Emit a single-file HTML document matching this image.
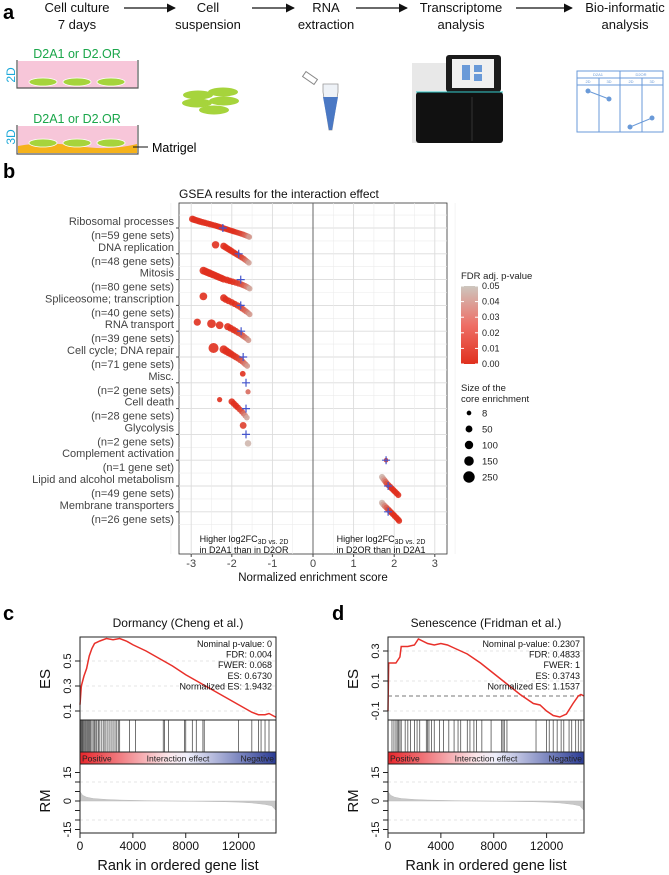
<!DOCTYPE html>
<html><head><meta charset="utf-8">
<style>
body{margin:0;background:#fff;}
svg{display:block;font-family:"Liberation Sans",Arial,sans-serif;}
</style></head>
<body>
<svg id="fig" width="669" height="875" viewBox="0 0 669 875" xmlns="http://www.w3.org/2000/svg">
<defs>
<marker id="arr" viewBox="0 0 10 10" refX="9" refY="5" markerWidth="7" markerHeight="7" orient="auto"><path d="M0,0 L10,5 L0,10 z" fill="#111"/></marker>
<linearGradient id="fdrgrad" x1="0" y1="1" x2="0" y2="0"><stop offset="0" stop-color="#e0301e"/><stop offset="0.5" stop-color="#ee6f66"/><stop offset="1" stop-color="#cdc6be"/></linearGradient>
<linearGradient id="rankgrad" x1="0" y1="0" x2="1" y2="0"><stop offset="0" stop-color="#e8262b"/><stop offset="0.45" stop-color="#fbe6ea"/><stop offset="0.55" stop-color="#eeeefa"/><stop offset="1" stop-color="#2b3c95"/></linearGradient>
</defs>

<!-- PANEL A -->
<g>
<text x="3" y="19" font-size="20" font-weight="bold">a</text>
<g font-size="13" text-anchor="middle" fill="#111">
<text x="77" y="12">Cell culture</text><text x="77" y="29">7 days</text>
<text x="208" y="12">Cell</text><text x="208" y="29">suspension</text>
<text x="326" y="12">RNA</text><text x="326" y="29">extraction</text>
<text x="461" y="12">Transcriptome</text><text x="461" y="29">analysis</text>
<text x="625" y="12">Bio-informatic</text><text x="625" y="29">analysis</text>
</g>
<g stroke="#111" stroke-width="1.3" marker-end="url(#arr)">
<line x1="124" y1="8" x2="175" y2="8"/><line x1="252" y1="8" x2="294" y2="8"/><line x1="356" y1="8" x2="407" y2="8"/><line x1="516" y1="8" x2="572" y2="8"/>
</g>
<g>
<text x="77" y="58" font-size="12.5" fill="#1aa64a" text-anchor="middle">D2A1 or D2.OR</text>
<rect x="18" y="61" width="119" height="27" fill="#f7c6d9"/>
<path d="M17,60 V88 H138 V60" fill="none" stroke="#555" stroke-width="1.2"/>
<ellipse cx="43" cy="82" rx="14" ry="4" fill="#a6d43c" stroke="#fff" stroke-width="0.8"/>
<ellipse cx="77" cy="82" rx="14" ry="4" fill="#a6d43c" stroke="#fff" stroke-width="0.8"/>
<ellipse cx="111" cy="82" rx="14" ry="4" fill="#a6d43c" stroke="#fff" stroke-width="0.8"/>
<text x="11" y="75" font-size="12" fill="#1ba8d8" text-anchor="middle" transform="rotate(-90 11 75)" dy="4">2D</text>
</g>
<g>
<text x="77" y="123" font-size="12.5" fill="#1aa64a" text-anchor="middle">D2A1 or D2.OR</text>
<rect x="18" y="126" width="119" height="27" fill="#f7c6d9"/>
<path d="M18,146 Q45,141 77,146 T137,144 V153 H18 z" fill="#f5b21b"/>
<path d="M17,125 V154 H138 V125" fill="none" stroke="#555" stroke-width="1.2"/>
<ellipse cx="43" cy="143" rx="14" ry="4" fill="#a6d43c" stroke="#fff" stroke-width="0.8"/>
<ellipse cx="77" cy="143" rx="14" ry="4" fill="#a6d43c" stroke="#fff" stroke-width="0.8"/>
<ellipse cx="111" cy="143" rx="14" ry="4" fill="#a6d43c" stroke="#fff" stroke-width="0.8"/>
<line x1="133" y1="147" x2="148" y2="147" stroke="#111"/>
<text x="152" y="152" font-size="12.5">Matrigel</text>
<text x="11" y="137" font-size="12" fill="#1ba8d8" text-anchor="middle" transform="rotate(-90 11 137)" dy="4">3D</text>
</g>
<g fill="#a6d43c">
<ellipse cx="223" cy="92" rx="15" ry="4.5"/><ellipse cx="198" cy="95" rx="15" ry="4.5"/><ellipse cx="224" cy="101" rx="15" ry="4.5"/><ellipse cx="197" cy="103" rx="15" ry="4.5"/><ellipse cx="214" cy="110" rx="15" ry="4.5"/>
</g>
<g>
<path d="M323,84 H338 V92 L332,130 H329 L323,92 z" fill="#eef2f7" stroke="#999" stroke-width="0.8"/>
<path d="M323,97 H338 L332,130 H329 z" fill="#4a78c4"/>
<rect x="303" y="75" width="14" height="6" transform="rotate(35 310 78)" fill="#fff" stroke="#888"/>
</g>
<g>
<rect x="412" y="63" width="38" height="80" fill="#e8e8e8"/>
<rect x="446" y="55" width="55" height="37" rx="3" fill="#1b1b1b"/>
<rect x="452" y="59" width="42" height="29" fill="#f0f0f0"/>
<rect x="462" y="65" width="8" height="15" fill="#6a9ad8"/><rect x="474" y="65" width="8" height="7" fill="#6a9ad8"/><rect x="474" y="74" width="8" height="7" fill="#6a9ad8"/>
<rect x="416" y="92" width="87" height="51" rx="3" fill="#111"/>
<line x1="416" y1="92" x2="503" y2="92" stroke="#3cc" stroke-width="1"/>
<line x1="472" y1="97" x2="472" y2="141" stroke="#333"/>
</g>
<g stroke="#6a9ad8" fill="none" stroke-width="1">
<rect x="577" y="71" width="86" height="61"/>
<line x1="577" y1="78" x2="663" y2="78"/><line x1="577" y1="85" x2="663" y2="85"/>
<line x1="620" y1="71" x2="620" y2="132"/><line x1="599" y1="78" x2="599" y2="132"/><line x1="642" y1="78" x2="642" y2="132"/>
<line x1="588" y1="91" x2="609" y2="99"/><line x1="630" y1="127" x2="652" y2="118"/>
<g fill="#6a9ad8" stroke="none"><circle cx="588" cy="91" r="2.5"/><circle cx="609" cy="99" r="2.5"/><circle cx="630" cy="127" r="2.5"/><circle cx="652" cy="118" r="2.5"/></g>
<g font-size="4" fill="#6a9ad8" stroke="none" text-anchor="middle"><text x="598" y="76">D2A1</text><text x="641" y="76">D2OR</text><text x="588" y="83">2D</text><text x="609" y="83">3D</text><text x="631" y="83">2D</text><text x="652" y="83">3D</text></g>
</g>
</g>

<g id="panelB">
<text x="3" y="178" font-size="20" font-weight="bold">b</text>
<text x="179" y="198" font-size="12" fill="#111">GSEA results for the interaction effect</text>
</g>

<g id="panelC"><text x="3" y="620" font-size="20" font-weight="bold">c</text></g>
<g id="panelD"><text x="332" y="620" font-size="20" font-weight="bold">d</text></g>
</svg>

<script>
const categories = ["Ribosomal processes","DNA replication","Mitosis","Spliceosome; transcription","RNA transport","Cell cycle; DNA repair","Misc.","Cell death","Glycolysis","Complement activation","Lipid and alcohol metabolism","Membrane transporters"];
const categoryCounts = ["(n=59 gene sets)","(n=48 gene sets)","(n=80 gene sets)","(n=40 gene sets)","(n=39 gene sets)","(n=71 gene sets)","(n=2 gene sets)","(n=28 gene sets)","(n=2 gene sets)","(n=1 gene set)","(n=49 gene sets)","(n=26 gene sets)"];
const nesValues = [
 [-2.97,-2.93,-2.88,-2.83,-2.78,-2.72,-2.66,-2.6,-2.54,-2.48,-2.42,-2.37,-2.32,-2.27,-2.22,-2.17,-2.12,-2.07,-2.02,-1.97,-1.92,-1.87,-1.82,-1.77,-1.72,-1.68,-1.64,-1.6,-1.57],
 [-2.4,-2.2,-2.15,-2.1,-2.05,-2.0,-1.95,-1.9,-1.85,-1.8,-1.75,-1.7,-1.66,-1.62,-1.58],
 [-2.7,-2.65,-2.6,-2.55,-2.5,-2.45,-2.4,-2.35,-2.3,-2.25,-2.2,-2.12,-2.05,-1.98,-1.9,-1.83,-1.77,-1.72,-1.67,-1.63,-1.59,-1.56],
 [-2.7,-2.2,-2.15,-2.08,-2.0,-1.93,-1.86,-1.8,-1.75,-1.7,-1.65,-1.6,-1.56],
 [-2.85,-2.5,-2.3,-2.1,-2.03,-1.96,-1.9,-1.84,-1.78,-1.73,-1.68,-1.63,-1.59],
 [-2.45,-2.2,-2.14,-2.08,-2.02,-1.96,-1.9,-1.84,-1.79,-1.74,-1.7,-1.66,-1.62],
 [-1.73,-1.6],
 [-2.3,-2.0,-1.95,-1.9,-1.85,-1.8,-1.75,-1.71,-1.67,-1.63],
 [-1.72,-1.6],
 [1.8],
 [1.7,1.73,1.76,1.79,1.82,1.86,1.9,1.94,1.98,2.02,2.06,2.1],
 [1.7,1.73,1.77,1.81,1.85,1.89,1.93,1.97,2.01,2.05,2.09,2.12]
];
const fdrValues = [
 [0,0,0,0,0,0,0,0,0,0,0,0,0,0,0,0,0,0,0,0,0,0.002,0.004,0.006,0.01,0.015,0.02,0.028,0.035],
 [0,0,0,0,0,0,0,0,0.002,0.005,0.008,0.012,0.02,0.028,0.038],
 [0,0,0,0,0,0,0,0,0,0,0,0,0,0,0.002,0.005,0.008,0.012,0.018,0.025,0.032,0.04],
 [0,0,0,0,0,0,0.003,0.006,0.01,0.015,0.02,0.028,0.035],
 [0,0,0,0,0,0,0.002,0.005,0.009,0.014,0.02,0.027,0.035],
 [0,0,0,0,0,0,0.002,0.005,0.009,0.014,0.02,0.027,0.035],
 [0,0.02],
 [0,0,0,0,0,0.005,0.01,0.02,0.03,0.04],
 [0.005,0.045],
 [0],
 [0.045,0.04,0.03,0.02,0.012,0.006,0.002,0,0,0,0,0],
 [0.045,0.038,0.028,0.018,0.01,0.005,0.002,0,0,0,0,0]
];
const coreSizes = [
 [60,55,50,50,50,50,45,45,45,40,40,40,40,40,40,35,35,35,35,35,30,30,30,30,30,30,30,30,30],
 [80,60,55,50,50,45,45,40,40,40,35,35,30,30,30],
 [90,85,80,80,75,75,70,70,65,65,60,55,50,50,45,45,40,40,35,35,30,30],
 [90,70,60,55,50,45,45,40,40,35,35,30,30],
 [70,130,90,70,60,55,50,45,40,40,35,35,30],
 [200,110,90,80,70,60,55,50,45,40,35,35,30],
 [30,20],
 [20,50,45,45,40,35,35,30,30,30],
 [60,50],
 [10],
 [40,40,40,40,40,40,40,40,40,40,40,40],
 [40,40,40,40,40,40,40,40,40,40,40,40]
];
const meanNES = [-2.22,-1.83,-1.78,-1.78,-1.77,-1.72,-1.65,-1.65,-1.65,1.8,1.85,1.85];
const xTicks = [-3,-2,-1,0,1,2,3];
const fdrTicks = ["0.05","0.04","0.03","0.02","0.01","0.00"];
const sizeLegend = [8,50,100,150,250];

const esRankC = [0,100,300,500,700,900,1100,1500,2000,2500,3000,3500,4000,5000,6000,7000,8000,9000,10000,11000,12000,13000,13500,14000,14300,14830];
const esValC  = [0.15,0.3,0.38,0.44,0.54,0.6,0.64,0.66,0.68,0.67,0.68,0.66,0.63,0.58,0.52,0.46,0.39,0.33,0.27,0.21,0.15,0.09,0.07,0.07,0.08,0.05];
const hitsC = [40,90,150,200,260,330,420,480,560,650,720,800,900,1000,1100,1200,1280,1400,1500,1650,1800,1900,2050,2200,2350,2500,2650,2780,2900,3000,3750,4200,6300,6400,6700,7900,8000,8500,8800,9300,9400,12000,13000,13500,13700,14000,14300];
const esRankD = [0,50,600,900,1000,1500,2000,2300,3000,3500,4000,4500,5000,6000,7000,8000,9000,10000,11000,11500,12000,12500,13000,13500,14000,14400,14600,14830];
const esValD  = [-0.1,0.22,0.22,0.26,0.33,0.33,0.34,0.38,0.35,0.34,0.35,0.34,0.32,0.28,0.22,0.15,0.08,0.01,-0.05,-0.06,-0.1,-0.13,-0.14,-0.12,-0.05,0.0,0.01,0.0];
const hitsD = [300,450,600,700,800,900,1000,1300,1500,1700,2000,2200,2400,2900,3000,3100,3300,3500,3900,4200,4600,5000,5300,5500,6000,6200,6500,6700,7100,7800,8600,8700,8800,9000,11200,12000,12200,12500,12800,13100,13300,13700,13900,14200,14400,14600];
const rmRank = [0,200,500,1000,2000,3000,5000,7000,9000,11000,12000,13000,14000,14500,14830];
const rmVal  = [5,3,2,1.3,0.8,0.5,0.2,0,-0.2,-0.4,-0.6,-1,-1.8,-2.5,-5];
const esTicksC = [0.1,0.3,0.5];
const esTicksD = [-0.1,0.1,0.3];
const rankTicks = [0,4000,8000,12000];
const rmTicks = [15,0,-15];
const statsC = ["Nominal p-value: 0","FDR: 0.004","FWER: 0.068","ES: 0.6730","Normalized ES: 1.9432"];
const statsD = ["Nominal p-value: 0.2307","FDR: 0.4833","FWER: 1","ES: 0.3743","Normalized ES: 1.1537"];

const NS = "http://www.w3.org/2000/svg";
function el(tag, attrs, parent){const e=document.createElementNS(NS,tag);for(const k in attrs)e.setAttribute(k,attrs[k]);parent.appendChild(e);return e;}

(function(){
 const g=document.getElementById('panelB');
 const L=179,R=447,T=203,B=554;
 const xs=v=>313+v*40.6;
 const row0=228,rowStep=25.8;
 const ys=i=>row0+i*rowStep;
 const bg=el('rect',{x:L,y:T,width:R-L,height:B-T,fill:'#fff',stroke:'#333','stroke-width':0.8},g);
 
 
 for(let i=0;i<=12;i++){const y=ys(i)-rowStep/2;el('line',{x1:L,x2:R,y1:y,y2:y,stroke:'#ececec','stroke-width':0.6},g);}
 for(let i=0;i<12;i++){el('line',{x1:L,x2:R,y1:ys(i),y2:ys(i),stroke:'#dcdcdc','stroke-width':0.9},g);}
 for(let v=-3.5;v<=3.5;v+=1){el('line',{x1:xs(v),x2:xs(v),y1:T,y2:B,stroke:'#ececec','stroke-width':0.6},g);}
 xTicks.forEach(v=>{
  el('line',{x1:xs(v),x2:xs(v),y1:T,y2:B,stroke:v===0?'#666':'#dcdcdc','stroke-width':v===0?1:0.9},g);
  el('line',{x1:xs(v),x2:xs(v),y1:B,y2:B+3,stroke:'#444'},g);
  const t=el('text',{x:xs(v),y:B+13,'font-size':11,fill:'#444','text-anchor':'middle'},g);t.textContent=v;
  
  
 });
 const xt=el('text',{x:313,y:581,'font-size':11.5,fill:'#111','text-anchor':'middle'},g);xt.textContent='Normalized enrichment score';
 
 
 categories.forEach((c,i)=>{
  const y=ys(i);
  el('line',{x1:L-3,x2:L,y1:y,y2:y,stroke:'#444'},g);
  const t=el('text',{x:L-5,y:y-3,'font-size':11,fill:'#444','text-anchor':'end'},g);t.textContent=c;
  
  
  const t2=el('text',{x:L-5,y:y+11,'font-size':11,fill:'#444','text-anchor':'end'},g);t2.textContent=categoryCounts[i];
  const vals=nesValues[i],n=vals.length;
  vals.forEach((v,j)=>{
   const f=fdrValues[i][j]/0.05;
   const c1=[224,48,30],c2=[205,198,190];
   const col='rgb('+c1.map((a,k)=>Math.round(a+(c2[k]-a)*f)).join(',')+')';
   const dy=n>1?-9+18*(j/(n-1)):0;
   const r=1.5+Math.sqrt(coreSizes[i][j])*0.25;
   const p=el('circle',{cx:xs(v),cy:y+dy,r:r,fill:col,'fill-opacity':0.9},g);
   
   
  });
  const mx=xs(meanNES[i]);
  const m=el('path',{d:`M${mx-4},${y} H${mx+4} M${mx},${y-4} V${y+4}`,stroke:'#4455cc','stroke-width':1.2},g);
  
  
 });
 function note(x,line2){
  const t=el('text',{x:x,y:542,'font-size':9,fill:'#111','text-anchor':'middle'},g);
  t.innerHTML='Higher log2FC<tspan font-size="7" dy="2">3D vs. 2D</tspan>';
  
  
  const t2=el('text',{x:x,y:553,'font-size':9,fill:'#111','text-anchor':'middle'},g);t2.textContent=line2;
 }
 note(244,'in D2A1 than in D2OR');note(381,'in D2OR than in D2A1');
 const lt=el('text',{x:461,y:279,'font-size':9.5,fill:'#222'},g);lt.textContent='FDR adj. p-value';
 
 
 const cb=el('rect',{x:461,y:286,width:17,height:78,fill:'url(#fdrgrad)'},g);
 
 
 fdrTicks.forEach((s,i)=>{const y=286+i*78/5;el('line',{x1:461,x2:464,y1:y,y2:y,stroke:'#fff'},g);el('line',{x1:475,x2:478,y1:y,y2:y,stroke:'#fff'},g);
  const t=el('text',{x:482,y:y+3,'font-size':9,fill:'#222'},g);t.textContent=s;});
 const st=el('text',{x:461,y:391,'font-size':9.5,fill:'#222'},g);st.textContent='Size of the';
 
 
 const st2=el('text',{x:461,y:402,'font-size':9.5,fill:'#222'},g);st2.textContent='core enrichment';
 sizeLegend.forEach((s,i)=>{const y=413+i*16;
  const c=el('circle',{cx:469,cy:y,r:1.6+Math.sqrt(s)*0.26,fill:'#000'},g);
  
  
  const t=el('text',{x:482,y:y+3.5,'font-size':9.5,fill:'#222'},g);t.textContent=s;});
})();

function gseaPanel(g,L,title,ranks,vals,hits,esTicks,es0,esScale,stats,dashedZero){
 const R=L+196,maxRank=14830;
 const xs=r=>L+r*(196/maxRank);
 const esT=637,esB=720,hitB=752,barB=764,rmB=833;
 const rmY=v=>801-v*1.9;
 const esY=v=>es0-v*esScale;
 const tt=el('text',{x:(L+R)/2,y:627,'font-size':12,fill:'#111','text-anchor':'middle'},g);tt.textContent=title;
 
 
 esTicks.forEach(v=>{el('line',{x1:L,x2:R,y1:esY(v),y2:esY(v),stroke:'#ddd','stroke-dasharray':'3,3','stroke-width':0.7},g);});
 if(dashedZero) el('line',{x1:L,x2:R,y1:esY(0),y2:esY(0),stroke:'#777','stroke-dasharray':'4,3','stroke-width':0.9},g);
 const pts=ranks.map((r,i)=>xs(r)+','+esY(vals[i])).join(' ');
 const line=el('polyline',{points:pts,fill:'none',stroke:'#e8302a','stroke-width':1.5},g);
 
 
 esTicks.forEach(v=>{el('line',{x1:L-5,x2:L,y1:esY(v),y2:esY(v),stroke:'#222'},g);
  const t=el('text',{x:L-9,y:esY(v),'font-size':11,fill:'#111','text-anchor':'middle',transform:`rotate(-90 ${L-9} ${esY(v)})`},g);t.textContent=v;});
 const ey=el('text',{x:L-30,y:679,'font-size':15,fill:'#111','text-anchor':'middle',transform:`rotate(-90 ${L-30} 679)`},g);ey.textContent='ES';
 
 
 stats.forEach((s,i)=>{const t=el('text',{x:R-4,y:esT+10+i*10.6,'font-size':9,fill:'#111','text-anchor':'end'},g);t.textContent=s;
  
  });
 hits.forEach(h=>{const l=el('line',{x1:xs(h),x2:xs(h),y1:esB,y2:hitB,stroke:'#333','stroke-width':0.8,'stroke-opacity':0.85},g);
  
  });
 const rb=el('rect',{x:L,y:hitB,width:196,height:barB-hitB,fill:'url(#rankgrad)'},g);
 
 
 [['Positive',L+2,'start'],['Interaction effect',(L+R)/2,'middle'],['Negative',R-2,'end']].forEach(a=>{
  const t=el('text',{x:a[1],y:barB-2.5,'font-size':8.5,fill:'#222','text-anchor':a[2]},g);t.textContent=a[0];});
 el('line',{x1:L,x2:R,y1:rmY(10),y2:rmY(10),stroke:'#ddd','stroke-dasharray':'3,3','stroke-width':0.7},g);
 el('line',{x1:L,x2:R,y1:rmY(-10),y2:rmY(-10),stroke:'#ddd','stroke-dasharray':'3,3','stroke-width':0.7},g);
 let d=`M${xs(0)},${rmY(0)} `+rmRank.map((r,i)=>`L${xs(r)},${rmY(rmVal[i])}`).join(' ')+` L${xs(maxRank)},${rmY(0)} Z`;
 const rm=el('path',{d:d,fill:'#c8c8c8',stroke:'#bbb','stroke-width':0.5},g);
 
 
 for(let v=-15;v<=15;v+=5){el('line',{x1:L-5,x2:L,y1:rmY(v),y2:rmY(v),stroke:'#222'},g);}
 rmTicks.forEach(v=>{const t=el('text',{x:L-9,y:rmY(v),'font-size':11,fill:'#111','text-anchor':'middle',transform:`rotate(-90 ${L-9} ${rmY(v)})`},g);t.textContent=v;});
 const ry=el('text',{x:L-30,y:801,'font-size':15,fill:'#111','text-anchor':'middle',transform:`rotate(-90 ${L-30} 801)`},g);ry.textContent='RM';
 
 
 el('rect',{x:L,y:esT,width:196,height:rmB-esT,fill:'none',stroke:'#222','stroke-width':1},g);
 el('line',{x1:L,x2:R,y1:esB,y2:esB,stroke:'#222'},g);
 el('line',{x1:L,x2:R,y1:hitB,y2:hitB,stroke:'#222'},g);
 el('line',{x1:L,x2:R,y1:barB,y2:barB,stroke:'#222'},g);
 el('line',{x1:xs(0),x2:xs(12000),y1:rmB,y2:rmB,stroke:'#222'},g);
 rankTicks.forEach(r=>{el('line',{x1:xs(r),x2:xs(r),y1:rmB,y2:rmB+5,stroke:'#222'},g);
  const t=el('text',{x:xs(r),y:rmB+17,'font-size':12,fill:'#111','text-anchor':'middle'},g);t.textContent=r;
  
  });
 const xt=el('text',{x:(L+R)/2,y:870,'font-size':14.5,fill:'#111','text-anchor':'middle'},g);xt.textContent='Rank in ordered gene list';
 
 
}
gseaPanel(document.getElementById('panelC'),80,'Dormancy (Cheng et al.)',esRankC,esValC,hitsC,esTicksC,723.5,125,statsC,false);
gseaPanel(document.getElementById('panelD'),388,'Senescence (Fridman et al.)',esRankD,esValD,hitsD,esTicksD,696,150,statsD,true);
</script>
</body></html>
